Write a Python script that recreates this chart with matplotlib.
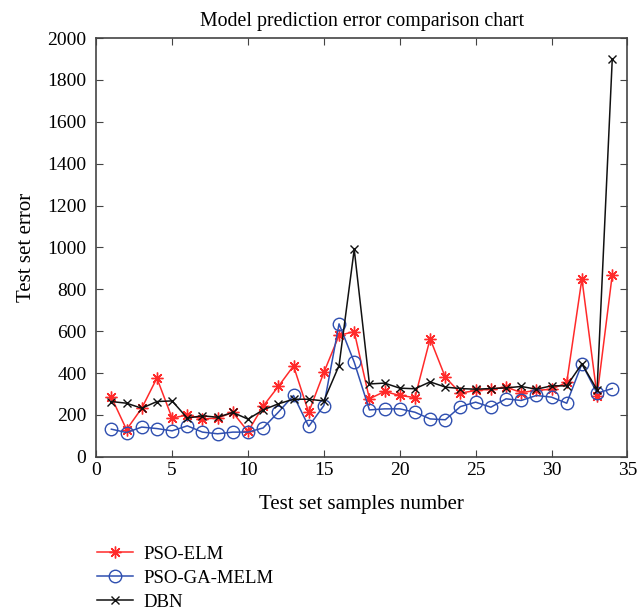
import numpy as np
import matplotlib.pyplot as plt

plt.rcParams['font.family'] = ['Liberation Serif', 'DejaVu Serif']

samples = np.arange(1, 35)
pso_elm = [285, 130, 232, 376, 185, 200, 181, 185, 212, 121, 242, 336, 434, 212, 403,
           580, 598, 277, 312, 293, 283, 564, 380, 304, 317, 323, 333, 307, 317, 323,
           355, 850, 291, 870]
pso_ga_melm = [132, 116, 142, 135, 124, 148, 118, 110, 118, 118, 138, 213, 293, 145, 245,
               635, 452, 224, 229, 229, 213, 181, 177, 240, 261, 237, 277, 269, 293, 285,
               256, 444, 304, 326]
dbn = [264, 256, 232, 264, 267, 185, 196, 189, 212, 180, 224, 253, 275, 275, 267,
       436, 991, 348, 352, 328, 325, 358, 333, 326, 323, 326, 329, 336, 323, 339,
       339, 444, 320, 1900]

fig = plt.figure(figsize=(6.37, 6.14), dpi=100)
ax = fig.add_axes([0.151, 0.256, 0.834, 0.682])

l1, = ax.plot(samples, pso_elm, color='#ff2a2a', marker=(8, 2, 0), markersize=8.5, mew=1.0,
              lw=1.1, label='PSO-ELM')
l2, = ax.plot(samples, pso_ga_melm, color='#2f4fb0', marker='o', markersize=9, mfc='none',
              mew=1.0, lw=1.1, label='PSO-GA-MELM')
l3, = ax.plot(samples, dbn, color='#111111', marker='x', markersize=6, lw=1.1, label='DBN')

ax.set_xlim(0, 35)
ax.set_ylim(0, 2000)
ax.set_xticks(range(0, 36, 5))
ax.set_yticks(range(0, 2001, 200))
ax.tick_params(direction='in', top=True, right=True, labelsize=14, length=5,
               color='#444444')
ax.tick_params(axis='y', pad=7)
for s in ax.spines.values():
    s.set_color('#444444')
    s.set_linewidth(1.2)
ax.set_title('Model prediction error comparison chart', fontsize=14.3, pad=9)
ax.set_xlabel('Test set samples number', fontsize=15, labelpad=12)
ax.set_ylabel('Test set error', fontsize=15, labelpad=8)

fig.legend(handles=[l1, l2, l3], loc='upper left', bbox_to_anchor=(0.138, 0.127),
           frameon=False, fontsize=13.5, handlelength=1.9, labelspacing=0.38,
           handletextpad=0.55, borderpad=0)

fig.savefig('out.png', dpi=100)
